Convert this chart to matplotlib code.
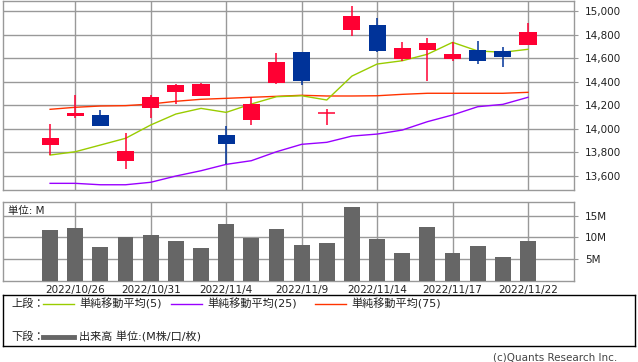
import numpy as np
import matplotlib
matplotlib.use("Agg")
import matplotlib.pyplot as plt
from matplotlib.ticker import FixedLocator, FuncFormatter

plt.rcParams["font.family"] = ["DejaVu Sans", "Noto Sans CJK JP"]

# ---- data ----
dates = ["2022/10/25", "2022/10/26", "2022/10/27", "2022/10/28", "2022/10/31",
         "2022/11/1", "2022/11/2", "2022/11/4", "2022/11/7", "2022/11/8",
         "2022/11/9", "2022/11/10", "2022/11/11", "2022/11/14", "2022/11/15",
         "2022/11/16", "2022/11/17", "2022/11/18", "2022/11/21", "2022/11/22"]
opens = [13866, 14109, 14118, 13730, 14180, 14315, 14279, 13948, 14078, 14392,
         14652, 14132, 14841, 14881, 14595, 14669, 14595, 14669, 14661, 14714]
closes = [13925, 14135, 14024, 13812, 14270, 14372, 14381, 13874, 14211, 14567,
          14409, 14132, 14958, 14663, 14686, 14728, 14635, 14578, 14612, 14822]
highs = [14041, 14287, 14160, 13965, 14287, 14381, 14392, 14024, 14268, 14646,
         14652, 14168, 15042, 14938, 14737, 14774, 14734, 14745, 14695, 14898]
lows = [13778, 14095, 14024, 13662, 14095, 14213, 14279, 13699, 14035, 14381,
        14375, 14035, 14790, 14655, 14578, 14409, 14578, 14553, 14527, 14714]
ma5 = [13778, 13806, 13863, 13920, 14033, 14126, 14174, 14140, 14211, 14273,
       14281, 14245, 14448, 14550, 14578, 14633, 14734, 14661, 14650, 14675]
ma25 = [13538, 13538, 13526, 13526, 13547, 13600, 13645, 13699, 13730, 13806,
        13869, 13886, 13939, 13956, 13990, 14061, 14118, 14188, 14208, 14268]
ma75 = [14166, 14183, 14194, 14197, 14211, 14234, 14251, 14259, 14268, 14276,
        14285, 14279, 14279, 14281, 14293, 14302, 14302, 14302, 14302, 14310]
volume_m = [11.7, 12.1, 7.8, 10.1, 10.5, 9.2, 7.5, 13.1, 9.8, 11.9,
            8.2, 8.7, 17.0, 9.6, 6.4, 12.4, 6.4, 8.0, 5.5, 9.2]
price_ticks = [13600, 13800, 14000, 14200, 14400, 14600, 14800, 15000]
vol_ticks = [5, 10, 15]
label_idx = [1, 4, 7, 10, 13, 16, 19]

RED = "#ff0033"
BLUE = "#003399"
GRID = "#999999"
C_MA5 = "#99cc00"
C_MA25 = "#9900ff"
C_MA75 = "#ff3300"
VOLC = "#666666"
TXT = "#222222"

W, H = 638, 362
fig = plt.figure(figsize=(W / 100, H / 100), dpi=100)


def px_axes(x0, y0, x1, y1):
    return fig.add_axes([x0 / W, 1 - y1 / H, (x1 - x0) / W, (y1 - y0) / H])


x = np.arange(len(dates))
xlim = (-1.86, 20.84)

# ---- price panel ----
ax = px_axes(3.3, 0.5, 574.3, 190.3)
ax.set_xlim(*xlim)
ax.set_ylim(13479, 15089)

up = np.array(closes) >= np.array(opens)
colors = [RED if u else BLUE for u in up]
bottoms = np.minimum(opens, closes)
heights = np.abs(np.array(closes) - np.array(opens))
ax.vlines(x, lows, highs, colors=colors, lw=1.1, zorder=3)
ax.bar(x, heights, 0.68, bottom=bottoms, color=colors, zorder=4)
for i in range(len(x)):
    if heights[i] == 0:
        ax.hlines(opens[i], x[i] - 0.34, x[i] + 0.34, colors=colors[i], lw=1.1, zorder=4)

ax.plot(x, ma75, color=C_MA75, lw=1.0, zorder=2)
ax.plot(x, ma25, color=C_MA25, lw=1.0, zorder=2)
ax.plot(x, ma5, color=C_MA5, lw=1.0, zorder=2)

ax.xaxis.set_major_locator(FixedLocator(label_idx))
ax.set_xticklabels([])
ax.tick_params(axis="x", length=0)
ax.yaxis.set_major_locator(FixedLocator(price_ticks))
ax.yaxis.tick_right()
ax.yaxis.set_major_formatter(FuncFormatter(lambda v, p: f"{int(v):,}"))
ax.tick_params(axis="y", length=3, color=GRID, labelsize=7.5, pad=4.5, labelcolor=TXT)
ax.grid(True, color=GRID, lw=1.0)
ax.set_axisbelow(True)
for s in ax.spines.values():
    s.set_color(GRID)
    s.set_linewidth(1.0)

# ---- volume panel ----
axv = px_axes(3.3, 201.7, 574.3, 280.7)
axv.set_xlim(*xlim)
axv.set_ylim(0, 18.2)
axv.bar(x, volume_m, 0.63, color=VOLC, zorder=3)
axv.xaxis.set_major_locator(FixedLocator(label_idx))
axv.set_xticklabels([dates[i] for i in label_idx])
axv.tick_params(axis="x", length=0, labelsize=7.5, pad=3, labelcolor=TXT)
axv.yaxis.set_major_locator(FixedLocator(vol_ticks))
axv.yaxis.tick_right()
axv.yaxis.set_major_formatter(FuncFormatter(lambda v, p: f"{int(v)}M"))
axv.tick_params(axis="y", length=3, color=GRID, labelsize=7.5, pad=4.5, labelcolor=TXT)
axv.grid(True, color=GRID, lw=1.0)
axv.set_axisbelow(True)
for s in axv.spines.values():
    s.set_color(GRID)
    s.set_linewidth(1.0)
axv.text(0.008, 0.88, "単位: M", transform=axv.transAxes, fontsize=7.5,
         va="center", ha="left", color=TXT, zorder=5)

# ---- legend box ----
lg = px_axes(3.3, 295, 635, 346)
lg.set_xlim(3.3, 635)
lg.set_ylim(346, 295)
lg.set_xticks([])
lg.set_yticks([])
for s in lg.spines.values():
    s.set_color("black")
    s.set_linewidth(1.0)

row1, row2 = 304, 337
tkw = dict(fontsize=8, va="center", ha="left", color=TXT)
lg.text(11, row1, "上段：", **tkw)
for x0, col, lab in [(43, C_MA5, "単純移動平均(5)"),
                     (171, C_MA25, "単純移動平均(25)"),
                     (315, C_MA75, "単純移動平均(75)")]:
    lg.plot([x0, x0 + 31], [row1, row1], color=col, lw=1.0)
    lg.text(x0 + 36, row1, lab, **tkw)
lg.text(11, row2, "下段：", **tkw)
lg.plot([43, 74], [row2, row2], color=VOLC, lw=3.5)
lg.text(79, row2, "出来高 単位:(M株/口/枚)", **tkw)

fig.text(617 / W, 1 - 357 / H, "(c)Quants Research Inc.", fontsize=7.5,
         ha="right", va="center", color="#444444")

fig.savefig("out.png", dpi=100)
